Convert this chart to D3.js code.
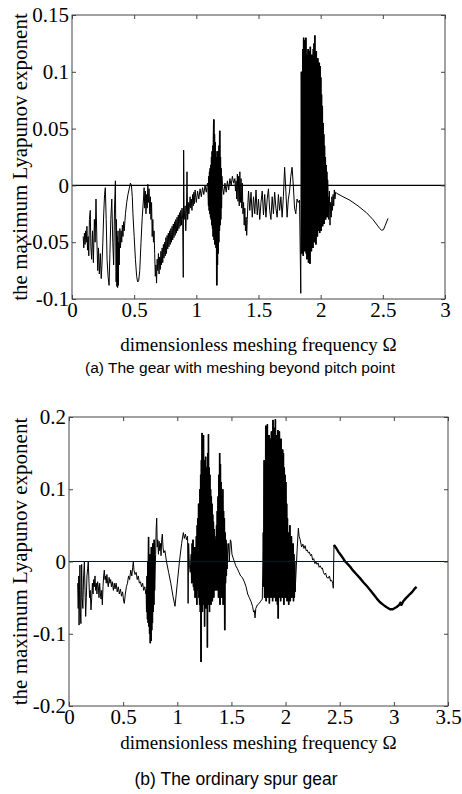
<!DOCTYPE html>
<html><head><meta charset="utf-8">
<script src="https://cdn.jsdelivr.net/npm/d3@7"></script>
<style>body{margin:0;background:#fff}</style>
</head><body>
<svg id="c" width="462" height="794"></svg>
<script>
// ---------------- DATA : chart (a) ----------------
const aXTicks = [0, 0.5, 1, 1.5, 2, 2.5, 3];
const aXTickLabels = ["0", "0.5", "1", "1.5", "2", "2.5", "3"];
const aYTicks = [-0.1, -0.05, 0, 0.05, 0.1, 0.15];
const aYTickLabels = ["-0.1", "-0.05", "0", "0.05", "0.1", "0.15"];

const aSeg1 = [[0.09,-0.045],[0.095,-0.055],[0.10,-0.042],[0.105,-0.052],[0.11,-0.040],[0.115,-0.050],[0.12,-0.036],[0.125,-0.057],[0.13,-0.045],[0.135,-0.062],[0.14,-0.030],[0.147,-0.022],[0.152,-0.055],[0.158,-0.065],[0.165,-0.040],[0.172,-0.068],[0.18,-0.030],[0.186,-0.050],[0.193,-0.012],[0.20,-0.048],[0.207,-0.075],[0.213,-0.055],[0.22,-0.078],[0.228,-0.060],[0.235,-0.082],[0.241,-0.070],[0.248,-0.050],[0.255,-0.025],[0.262,-0.008],[0.268,-0.002],[0.275,-0.030],[0.282,-0.065],[0.29,-0.080],[0.298,-0.088],[0.305,-0.060],[0.312,-0.030],[0.32,-0.012],[0.328,-0.050],[0.335,-0.070],[0.342,-0.020],[0.349,0.004],[0.352,-0.040],[0.355,-0.085],[0.358,-0.030],[0.361,-0.089],[0.364,-0.045],[0.367,-0.090],[0.37,-0.040],[0.373,-0.088],[0.376,-0.050],[0.38,-0.070],[0.385,-0.038],[0.39,-0.055],[0.395,-0.040],[0.40,-0.050],[0.405,-0.035],[0.41,-0.045],[0.415,-0.032],[0.42,-0.040],[0.43,-0.025],[0.44,-0.015],[0.45,-0.008],[0.46,-0.003],[0.47,0.002],[0.478,0.000],[0.485,-0.010],[0.49,-0.025],[0.50,-0.045],[0.51,-0.065],[0.52,-0.080],[0.528,-0.085],[0.536,-0.084],[0.545,-0.075],[0.555,-0.050],[0.565,-0.028],[0.575,-0.012],[0.58,-0.002],[0.585,-0.020],[0.59,-0.005],[0.595,-0.025],[0.60,-0.008],[0.605,-0.020],[0.61,0.001],[0.615,-0.015],[0.62,-0.003],[0.625,-0.025],[0.63,-0.010],[0.635,-0.030],[0.64,-0.015],[0.645,-0.045],[0.65,-0.030],[0.655,-0.050],[0.66,-0.040],[0.665,-0.060],[0.67,-0.080],[0.675,-0.070],[0.68,-0.086],[0.685,-0.065],[0.69,-0.075],[0.695,-0.060],[0.70,-0.078],[0.705,-0.063],[0.71,-0.074],[0.715,-0.058],[0.72,-0.070],[0.725,-0.055],[0.73,-0.068],[0.735,-0.052],[0.74,-0.064],[0.745,-0.050],[0.75,-0.062],[0.755,-0.046],[0.76,-0.060],[0.765,-0.044],[0.77,-0.056],[0.775,-0.042],[0.78,-0.054],[0.785,-0.040],[0.79,-0.052],[0.795,-0.038],[0.80,-0.050],[0.805,-0.036],[0.81,-0.048],[0.815,-0.034],[0.82,-0.046],[0.825,-0.032],[0.83,-0.044],[0.835,-0.030],[0.84,-0.042],[0.845,-0.028],[0.85,-0.040],[0.855,-0.026],[0.86,-0.038],[0.865,-0.024],[0.87,-0.036],[0.875,-0.022],[0.88,-0.035],[0.885,-0.020],[0.89,-0.030],[0.895,-0.081],[0.898,0.031],[0.902,-0.030],[0.91,-0.018],[0.915,-0.040],[0.92,-0.025],[0.925,0.012],[0.93,-0.030],[0.935,-0.015],[0.94,-0.025],[0.95,-0.010],[0.955,-0.020],[0.96,-0.012],[0.965,-0.022],[0.97,-0.008],[0.975,-0.018],[0.98,-0.006],[0.985,-0.016],[0.99,-0.004],[1.00,-0.015],[1.01,-0.005],[1.02,-0.012],[1.03,-0.003],[1.04,-0.010],[1.05,-0.002],[1.06,-0.008],[1.07,0.000],[1.08,-0.006],[1.09,0.002]];

const aClusterARange = [1.096, 1.204];
const aClusterA = [-0.002,-0.018,0.008,-0.022,0.012,-0.025,0.015,-0.028,0.018,-0.03,0.025,-0.035,0.03,-0.038,0.035,-0.045,0.042,0.058,-0.048,0.045,-0.052,0.038,-0.04,0.03,-0.055,0.025,-0.088,0.02,-0.07,0.03,-0.06,0.028,-0.05,0.035,-0.04,0.048,-0.035,0.025,-0.03,0.015,-0.02,0.008];

const aSeg2 = [[1.21,0.0],[1.22,-0.008],[1.23,0.002],[1.24,-0.006],[1.25,0.004],[1.26,-0.004],[1.27,0.006],[1.28,0.000],[1.29,0.008],[1.30,0.002],[1.31,0.006],[1.315,-0.005],[1.32,0.004],[1.325,-0.012],[1.33,0.010],[1.335,-0.014],[1.34,0.008],[1.345,-0.018],[1.35,0.012],[1.355,-0.015],[1.36,0.006],[1.365,-0.02],[1.37,0.002],[1.375,-0.025],[1.38,-0.015],[1.385,-0.035],[1.39,-0.02],[1.395,-0.04],[1.40,-0.028],[1.405,-0.044],[1.41,-0.03],[1.415,-0.015],[1.42,-0.005],[1.43,-0.022],[1.44,-0.006],[1.45,-0.028],[1.46,-0.01],[1.47,-0.025],[1.48,-0.004],[1.49,-0.026],[1.50,-0.012],[1.51,-0.030],[1.52,-0.015],[1.53,-0.005],[1.54,-0.026],[1.55,-0.008],[1.56,-0.028],[1.57,-0.012],[1.58,-0.003],[1.59,-0.022],[1.60,-0.030],[1.61,-0.010],[1.62,-0.025],[1.63,-0.006],[1.64,-0.020],[1.65,-0.028],[1.66,-0.008],[1.67,-0.022],[1.68,-0.010],[1.69,-0.028],[1.70,-0.01],[1.71,0.016],[1.72,-0.005],[1.73,-0.028],[1.74,-0.012],[1.75,-0.005],[1.76,0.008],[1.77,0.016],[1.78,0.0],[1.79,-0.02],[1.80,-0.025],[1.81,-0.012],[1.82,-0.015],[1.83,-0.013],[1.84,-0.095]];

const aClusterBRange = [1.845, 2.058];
const aClusterB = [0.10,-0.06,0.095,-0.055,0.12,-0.062,0.13,-0.05,0.11,-0.058,0.128,-0.045,0.13,-0.06,0.115,-0.065,0.09,-0.04,0.12,-0.068,0.08,-0.05,0.118,-0.069,0.122,-0.045,0.10,-0.058,0.115,-0.05,0.06,-0.055,0.12,-0.04,0.125,-0.05,0.132,-0.045,0.11,-0.052,0.118,-0.038,0.10,-0.045,0.112,-0.04,0.09,-0.035,0.108,-0.042,0.105,-0.03,0.095,-0.04,0.08,-0.032,0.07,-0.036,0.055,-0.028,0.045,-0.034,0.035,-0.025,0.025,-0.03,0.018,-0.022,0.012,-0.028,0.005,-0.02];

const aSeg3 = [[2.06,-0.01],[2.065,-0.03],[2.07,-0.005],[2.075,-0.035],[2.08,-0.015],[2.085,-0.028],[2.09,-0.01],[2.095,-0.022],[2.10,-0.008],[2.105,-0.018],[2.11,-0.004],[2.115,-0.012],[2.12,-0.006],[2.13,-0.007],[2.18,-0.010],[2.234,-0.013],[2.30,-0.018],[2.368,-0.024],[2.42,-0.030],[2.448,-0.034],[2.475,-0.038],[2.49,-0.0395],[2.505,-0.039],[2.52,-0.035],[2.542,-0.029]];

// ---------------- DATA : chart (b) ----------------
const bXTicks = [0, 0.5, 1, 1.5, 2, 2.5, 3, 3.5];
const bXTickLabels = ["0", "0.5", "1", "1.5", "2", "2.5", "3", "3.5"];
const bYTicks = [-0.2, -0.1, 0, 0.1, 0.2];
const bYTickLabels = ["-0.2", "-0.1", "0", "0.1", "0.2"];

const bSeg1 = [[0.08,-0.03],[0.085,-0.065],[0.09,-0.02],[0.093,-0.088],[0.097,-0.04],[0.101,-0.005],[0.105,-0.07],[0.11,-0.086],[0.114,-0.03],[0.117,-0.004],[0.122,-0.05],[0.128,-0.065],[0.135,-0.02],[0.142,0.0],[0.148,-0.04],[0.154,-0.076],[0.16,-0.05],[0.166,-0.02],[0.172,-0.01],[0.178,0.0],[0.185,-0.03],[0.19,-0.05],[0.196,-0.04],[0.203,-0.067],[0.21,-0.05],[0.216,-0.03],[0.222,-0.045],[0.228,-0.025],[0.234,-0.035],[0.24,-0.02],[0.246,-0.04],[0.252,-0.03],[0.258,-0.045],[0.264,-0.028],[0.271,-0.035],[0.277,-0.05],[0.283,-0.03],[0.29,-0.045],[0.296,-0.052],[0.302,-0.04],[0.308,-0.06],[0.314,-0.035],[0.32,-0.02],[0.326,-0.012],[0.332,-0.025],[0.338,-0.02],[0.344,-0.03],[0.35,-0.018],[0.357,-0.03],[0.363,-0.035],[0.37,-0.022],[0.378,-0.03],[0.385,-0.025],[0.392,-0.035],[0.40,-0.028],[0.41,-0.04],[0.418,-0.03],[0.425,-0.038],[0.435,-0.03],[0.445,-0.042],[0.455,-0.035],[0.465,-0.045],[0.475,-0.038],[0.485,-0.048],[0.495,-0.042],[0.505,-0.055],[0.511,-0.058],[0.52,-0.045],[0.53,-0.035],[0.54,-0.03],[0.55,-0.02],[0.56,-0.025],[0.57,-0.012],[0.58,-0.02],[0.588,-0.008],[0.594,0.0],[0.60,-0.012],[0.61,-0.018],[0.62,-0.015],[0.63,-0.025],[0.64,-0.02],[0.65,-0.03],[0.66,-0.028],[0.67,-0.035],[0.68,-0.03],[0.69,-0.04],[0.70,-0.035],[0.71,-0.045]];

const bClusterCRange = [0.715, 0.79];
const bClusterC = [-0.04,-0.07,-0.02,-0.08,0.0,-0.085,0.034,-0.09,-0.01,-0.1,0.01,-0.113,-0.005,-0.11,0.02,-0.095,0.005,-0.085,0.025,-0.07,0.015,-0.06,0.03,-0.04];

const bSeg2 = [[0.80,0.01],[0.805,0.045],[0.81,0.06],[0.815,0.02],[0.82,0.03],[0.826,0.01],[0.832,0.028],[0.838,0.015],[0.845,0.025],[0.85,0.008],[0.856,0.03],[0.862,0.038],[0.868,0.02],[0.875,0.012],[0.886,0.015],[0.90,0.0],[0.92,-0.015],[0.94,-0.03],[0.96,-0.048],[0.979,-0.062],[1.0,-0.03],[1.02,0.0],[1.04,0.025],[1.056,0.04],[1.065,0.032],[1.075,0.038],[1.085,0.03],[1.095,0.035],[1.10,-0.058],[1.105,0.025],[1.112,-0.005],[1.12,-0.015],[1.125,0.0]];

const bClusterD1Range = [1.13, 1.188];
const bClusterD1 = [0.01,-0.03,0.025,-0.02,0.03,-0.035,0.015,-0.04,0.02,-0.05,0.01,-0.03,0.035,-0.06,0.05,-0.04];

const bClusterD2Range = [1.19, 1.35];
const bClusterD2 = [0.06,-0.04,0.08,-0.05,0.07,-0.06,0.1,-0.07,0.12,-0.139,0.14,-0.05,0.178,-0.07,0.15,-0.045,0.175,-0.06,0.14,-0.09,0.125,-0.05,0.145,-0.065,0.13,-0.04,0.12,-0.119,0.15,-0.06,0.176,-0.05,0.13,-0.07,0.12,-0.045,0.1,-0.06,0.09,-0.04,0.08,-0.055,0.065,-0.035,0.055,-0.05,0.045,-0.03,0.035,-0.04];

const bClusterD3Range = [1.355, 1.46];
const bClusterD3 = [0.03,-0.03,0.05,-0.04,0.07,-0.035,0.09,-0.05,0.12,-0.04,0.15,-0.06,0.135,-0.045,0.11,-0.05,0.09,-0.04,0.1,-0.06,0.07,-0.05,0.06,-0.095,0.04,-0.03,0.03,-0.02,0.025,-0.01];

const bSeg3 = [[1.465,0.01],[1.475,0.025],[1.48,0.0],[1.49,0.03],[1.496,0.028],[1.505,0.01],[1.515,0.005],[1.527,0.0],[1.54,-0.006],[1.555,-0.01],[1.57,-0.015],[1.585,-0.02],[1.60,-0.022],[1.619,-0.028],[1.635,-0.035],[1.65,-0.045],[1.665,-0.05],[1.68,-0.055],[1.695,-0.062],[1.705,-0.07],[1.712,-0.068],[1.718,-0.078],[1.725,-0.065],[1.74,-0.06],[1.757,-0.058],[1.77,-0.055],[1.785,-0.052]];

const bClusterERange = [1.795, 2.088];
const bClusterE = [0.04,-0.035,0.14,-0.05,0.1,-0.04,0.188,-0.055,0.15,-0.03,0.19,-0.05,0.16,-0.04,0.175,-0.058,0.14,-0.035,0.17,-0.05,0.18,-0.04,0.16,-0.055,0.196,-0.03,0.17,-0.05,0.185,-0.04,0.197,-0.055,0.175,-0.045,0.16,-0.06,0.182,-0.079,0.15,-0.05,0.18,-0.04,0.165,-0.055,0.17,-0.045,0.14,-0.05,0.155,-0.04,0.15,-0.06,0.13,-0.045,0.12,-0.05,0.11,-0.04,0.08,-0.055,0.06,-0.05,0.04,-0.06,0.03,-0.045,0.05,-0.055,0.02,-0.04,0.035,-0.05,0.015,-0.045,0.025,-0.055,0.01,-0.05,0.0,-0.042];

const bSeg4 = [[2.092,-0.03],[2.10,-0.005],[2.108,0.02],[2.118,0.046],[2.125,0.035],[2.135,0.03],[2.148,0.02],[2.16,0.024],[2.17,0.018],[2.18,0.022],[2.19,0.015],[2.2,0.016],[2.21,0.012],[2.22,0.013],[2.23,0.008],[2.24,0.01],[2.25,0.002],[2.26,0.004],[2.271,-0.003],[2.28,0.0],[2.29,-0.004],[2.30,-0.002],[2.31,-0.008],[2.32,-0.006],[2.333,-0.01],[2.34,-0.009],[2.35,-0.015],[2.36,-0.018],[2.37,-0.016],[2.38,-0.022],[2.395,-0.023],[2.405,-0.02],[2.415,-0.027],[2.426,-0.026],[2.435,-0.03],[2.441,-0.037],[2.447,0.023]];

const bTail = [[2.447,0.023],[2.47,0.018],[2.49,0.013],[2.51,0.009],[2.533,0.004],[2.55,0.0],[2.57,-0.003],[2.595,-0.007],[2.62,-0.012],[2.65,-0.017],[2.687,-0.023],[2.72,-0.029],[2.75,-0.034],[2.779,-0.039],[2.81,-0.045],[2.841,-0.051],[2.87,-0.056],[2.903,-0.060],[2.93,-0.063],[2.964,-0.066],[2.99,-0.066],[3.026,-0.063],[3.05,-0.060],[3.06,-0.057],[3.07,-0.060],[3.087,-0.055],[3.11,-0.051],[3.13,-0.048],[3.149,-0.045],[3.17,-0.042],[3.19,-0.038],[3.21,-0.035]];

const axisTitleX = "dimensionless meshing frequency \u03A9";
const axisTitleY = "the maximum Lyapunov exponent";
const captionA = "(a) The gear with meshing beyond pitch point";
const captionB = "(b) The ordinary spur gear";

// ---------------- BUILD ----------------
function spread(range, vals) {
  const n = vals.length;
  return vals.map((v, i) => [range[0] + (range[1] - range[0]) * i / (n - 1), v]);
}
const clustersA = [spread(aClusterARange, aClusterA), spread(aClusterBRange, aClusterB)];
const seriesA = [].concat(aSeg1, clustersA[0], aSeg2, clustersA[1], aSeg3);
const clustersB = [spread(bClusterCRange, bClusterC), spread(bClusterD1Range, bClusterD1),
  spread(bClusterD2Range, bClusterD2), spread(bClusterD3Range, bClusterD3), spread(bClusterERange, bClusterE)];
const seriesB = [].concat(bSeg1, clustersB[0], bSeg2, clustersB[1], clustersB[2], clustersB[3], bSeg3, clustersB[4], bSeg4);

const svg = d3.select("#c");
const serif = "'Liberation Serif','Times New Roman',serif";
const sans = "'Liberation Sans',Arial,sans-serif";

function drawChart(o) {
  const x = d3.scaleLinear().domain(o.xDomain).range([o.left, o.right]);
  const y = d3.scaleLinear().domain(o.yDomain).range([o.bottom, o.top]);
  const g = svg.append("g");
  const id = "clip" + o.name;
  g.append("clipPath").attr("id", id).append("rect")
    .attr("x", o.left).attr("y", o.top).attr("width", o.right - o.left).attr("height", o.bottom - o.top);
  const line = d3.line().x(d => x(d[0])).y(d => y(d[1]));
  const plot = g.append("g").attr("clip-path", `url(#${id})`);
  plot.append("path").datum(o.series).attr("d", line)
    .attr("fill", "none").attr("stroke", "#000").attr("stroke-width", 1);
  plot.selectAll("path.cl").data(o.clusters).join("path").attr("class", "cl").attr("d", line)
    .attr("fill", "none").attr("stroke", "#000").attr("stroke-width", 1.6).attr("stroke-linejoin", "bevel");
  if (o.tail) {
    plot.append("path").datum(o.tail).attr("d", line)
      .attr("fill", "none").attr("stroke", "#000").attr("stroke-width", 2.4).attr("stroke-linejoin", "round");
  }
  plot.append("line").attr("x1", o.left).attr("x2", o.right).attr("y1", y(0)).attr("y2", y(0))
    .attr("stroke", o.zeroColor).attr("stroke-width", 1.2);

  const tl = 4;
  const gx = g.append("g").attr("transform", `translate(0,${o.bottom})`)
    .call(d3.axisBottom(x).tickValues(o.xTicks).tickFormat((d, i) => o.xLabels[i]).tickSizeInner(-tl).tickSizeOuter(0).tickPadding(3));
  const gxt = g.append("g").attr("transform", `translate(0,${o.top})`)
    .call(d3.axisTop(x).tickValues(o.xTicks).tickFormat("").tickSizeInner(-tl).tickSizeOuter(0));
  const gy = g.append("g").attr("transform", `translate(${o.left},0)`)
    .call(d3.axisLeft(y).tickValues(o.yTicks).tickFormat((d, i) => o.yLabels[i]).tickSizeInner(-tl).tickSizeOuter(0).tickPadding(3));
  const gyr = g.append("g").attr("transform", `translate(${o.right},0)`)
    .call(d3.axisRight(y).tickValues(o.yTicks).tickFormat("").tickSizeInner(-tl).tickSizeOuter(0));
  [gx, gxt, gy, gyr].forEach(a => {
    a.select(".domain").remove();
    a.selectAll(".tick line").attr("stroke", "#444");
    a.selectAll("text").attr("font-family", serif).attr("font-size", 21).attr("fill", "#000");
  });
  gx.selectAll(".tick text").attr("dy", "0.71em");
  g.append("rect").attr("x", o.left).attr("y", o.top).attr("width", o.right - o.left).attr("height", o.bottom - o.top)
    .attr("fill", "none").attr("stroke", "#444").attr("stroke-width", 1);

  g.append("text").attr("x", (o.left + o.right) / 2 + o.xTitleDx).attr("y", o.xTitleY)
    .attr("text-anchor", "middle").attr("font-family", serif).attr("font-size", 19).text(axisTitleX);
  g.append("text").attr("transform", `translate(${o.yTitleX},${(o.top + o.bottom) / 2}) rotate(-90)`)
    .attr("text-anchor", "middle").attr("font-family", serif).attr("font-size", 21).text(axisTitleY);
  g.append("text").attr("x", o.captionX).attr("y", o.captionY)
    .attr("text-anchor", "middle").attr("font-family", sans).attr("font-size", o.captionSize).text(o.caption);
}

drawChart({ name: "a", left: 72, right: 445, top: 15, bottom: 299, xDomain: [0, 3], yDomain: [-0.1, 0.15],
  series: seriesA, clusters: clustersA, zeroColor: "#000", xTicks: aXTicks, xLabels: aXTickLabels, yTicks: aYTicks, yLabels: aYTickLabels,
  xTitleY: 351, xTitleDx: 0, yTitleX: 27, caption: captionA, captionSize: 15.5, captionX: 240, captionY: 373 });

drawChart({ name: "b", left: 69, right: 448, top: 417, bottom: 706, xDomain: [0, 3.5], yDomain: [-0.2, 0.2],
  series: seriesB, clusters: clustersB, tail: bTail, zeroColor: "#00008b", xTicks: bXTicks, xLabels: bXTickLabels, yTicks: bYTicks, yLabels: bYTickLabels,
  xTitleY: 749, xTitleDx: 0, yTitleX: 27, caption: captionB, captionSize: 17.5, captionX: 236, captionY: 785 });
</script>
</body></html>
